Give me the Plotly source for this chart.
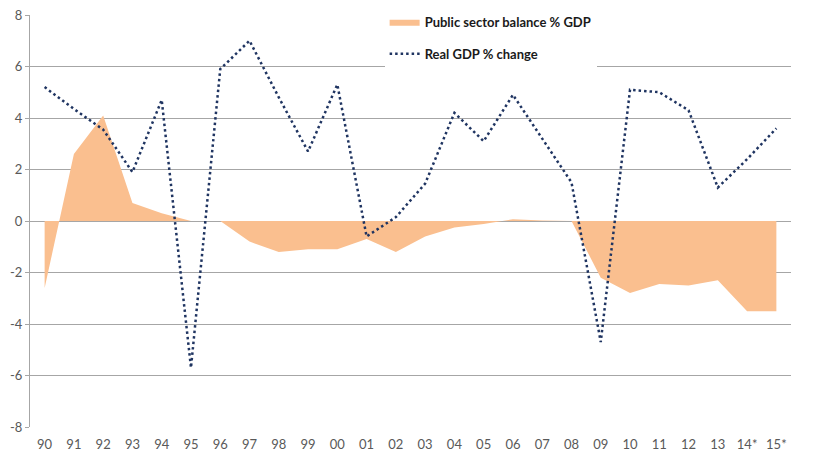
import plotly.graph_objects as go

years = ["90", "91", "92", "93", "94", "95", "96", "97", "98", "99", "00", "01", "02",
         "03", "04", "05", "06", "07", "08", "09", "10", "11", "12", "13", "14*", "15*"]

public_balance = [-2.6, 2.6, 4.1, 0.7, 0.3, 0.0, 0.0, -0.8, -1.2, -1.1, -1.1, -0.7, -1.2,
                  -0.6, -0.25, -0.12, 0.07, 0.02, 0.0, -2.2, -2.8, -2.45, -2.5, -2.3, -3.5, -3.5]

real_gdp = [5.2, 4.35, 3.55, 1.9, 4.7, -5.7, 5.9, 7.0, 4.8, 2.7, 5.3, -0.6, 0.15,
            1.45, 4.2, 3.1, 4.9, 3.2, 1.5, -4.7, 5.1, 5.0, 4.3, 1.3, 2.4, 3.6]

y_ticks = [-8, -6, -4, -2, 0, 2, 4, 6, 8]
y_tick_labels = ["-8", "-6", "-4", "-2", "0", "2", "4", "6", "8"]

grid = "#a6a6a6"
font_family = "Lato, 'Open Sans', sans-serif"

fig = go.Figure()

fig.add_trace(go.Scatter(
    x=years, y=public_balance, name="<b>Public sector balance % GDP</b>",
    mode="lines", line=dict(width=0, color="#FABF8F"),
    fill="tozeroy", fillcolor="#FABF8F",
    legendgroup="a", hoverinfo="skip",
))

fig.add_trace(go.Scatter(
    x=years, y=real_gdp, name="<b>Real GDP % change</b>",
    mode="lines", line=dict(width=2.5, color="#1F3461", dash="2.5px,3px"),
    legendgroup="b", hoverinfo="skip",
))

fig.update_layout(
    width=820, height=472,
    margin=dict(l=30, r=29, t=0, b=45, autoexpand=False),
    paper_bgcolor="white", plot_bgcolor="white",
    font=dict(family=font_family, size=13, color="#595959"),
    showlegend=True,
    legend=dict(
        x=0.466, y=0.984, xanchor="left", yanchor="top",
        bgcolor="white", borderwidth=0,
        font=dict(family=font_family, size=13, color="#1a1a1a"),
        tracegroupgap=12, traceorder="grouped",
    ),
    xaxis=dict(
        type="category", range=[-0.5, 25.5], automargin=False,
        showgrid=False, showline=False, zeroline=False,
        ticks="", ticklabelstandoff=8, tickfont=dict(size=13, color="#595959"),
        tickmode="array", tickvals=years, ticktext=years,
    ),
    yaxis=dict(
        domain=[0, 412 / 427], automargin=False,
        range=[-8, 8], tickmode="array", tickvals=y_ticks, ticktext=y_tick_labels,
        showgrid=True, gridcolor=grid, gridwidth=1,
        zeroline=True, zerolinecolor=grid, zerolinewidth=1,
        showline=True, linecolor=grid, linewidth=1,
        ticks="outside", ticklen=4, tickcolor=grid,
        tickfont=dict(size=13, color="#595959"),
    ),
)

fig.write_html("out.html", config={"displayModeBar": False},
               post_script="document.body.style.margin='0';")
